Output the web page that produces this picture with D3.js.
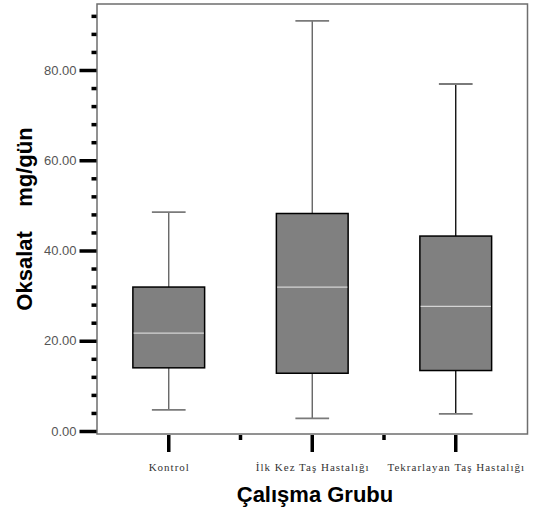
<!DOCTYPE html>
<html>
<head>
<meta charset="utf-8">
<script src="https://cdn.jsdelivr.net/npm/d3@7"></script>
<style>
  body { margin: 0; background: #fff; }
  svg { display: block; }
</style>
</head>
<body>
<svg id="chart" width="535" height="512"></svg>
<script>
// groups and box summary values (mg/gün)
var groups = ["Kontrol", "İlk Kez Taş Hastalığı", "Tekrarlayan Taş Hastalığı"];
var whiskerLow = [4.7, 2.8, 3.8];
var q1 = [14.0, 12.8, 13.4];
var median = [21.7, 31.9, 27.6];
var q3 = [31.9, 48.2, 43.2];
var whiskerHigh = [48.5, 90.9, 76.9];

var majorTicks = [0, 20, 40, 60, 80];
var minorTicks = [4, 8, 12, 16, 24, 28, 32, 36, 44, 48, 52, 56, 64, 68, 72, 76, 84, 88, 92];

var svg = d3.select("#chart");

var frame = { left: 97, right: 527.5, top: 4, bottom: 434 };

var y = d3.scaleLinear()
  .domain([0, 80])
  .range([431, 70]);

var x = d3.scaleBand()
  .domain(groups)
  .range([frame.left, frame.right])
  .padding(0);

var boxW = x.bandwidth() * 0.5;
var capW = boxW * 0.47;

var data = groups.map(function(g, i) {
  return { name: g, lo: whiskerLow[i], q1: q1[i], med: median[i], q3: q3[i], hi: whiskerHigh[i] };
});

// frame
svg.append("rect")
  .attr("x", frame.left)
  .attr("y", frame.top)
  .attr("width", frame.right - frame.left)
  .attr("height", frame.bottom - frame.top)
  .attr("fill", "none")
  .attr("stroke", "#6e6e6e")
  .attr("stroke-width", 1.5);

// y axis, major ticks with labels
var yAxis = svg.append("g")
  .attr("transform", "translate(" + (frame.left - 0.5) + ",0)")
  .call(d3.axisLeft(y).tickValues(majorTicks).tickFormat(d3.format(".2f")).tickSize(17).tickPadding(3));
yAxis.select(".domain").remove();
yAxis.selectAll("line").attr("stroke", "#000").attr("stroke-width", 3.5);
yAxis.selectAll("text")
  .attr("fill", "#555")
  .style("font-family", "'Liberation Sans', Arial, sans-serif")
  .style("font-size", "13px");

// y axis, minor ticks
var yMinor = svg.append("g")
  .attr("transform", "translate(" + (frame.left - 0.5) + ",0)")
  .call(d3.axisLeft(y).tickValues(minorTicks).tickFormat("").tickSize(5));
yMinor.select(".domain").remove();
yMinor.selectAll("line").attr("stroke", "#000").attr("stroke-width", 3.5);

// x axis ticks at group centres
var xAxis = svg.append("g")
  .attr("transform", "translate(0," + (frame.bottom + 1) + ")")
  .call(d3.axisBottom(x).tickSize(17).tickFormat(""));
xAxis.select(".domain").remove();
xAxis.selectAll("line").attr("stroke", "#000").attr("stroke-width", 3.5);

// short ticks between groups
svg.append("g")
  .selectAll("line")
  .data(groups.slice(1))
  .enter().append("line")
  .attr("x1", function(d) { return x(d); })
  .attr("x2", function(d) { return x(d); })
  .attr("y1", frame.bottom + 1)
  .attr("y2", frame.bottom + 6)
  .attr("stroke", "#000")
  .attr("stroke-width", 3.5);

// group labels
svg.append("g")
  .selectAll("text")
  .data(groups)
  .enter().append("text")
  .attr("x", function(d) { return x(d) + x.bandwidth() / 2 + 0.5; })
  .attr("y", 471)
  .attr("text-anchor", "middle")
  .attr("fill", "#333")
  .style("font-family", "'Liberation Serif', 'Times New Roman', serif")
  .style("font-size", "11px")
  .style("letter-spacing", "1px")
  .text(function(d) { return d; });

// boxes
var box = svg.append("g")
  .selectAll("g")
  .data(data)
  .enter().append("g")
  .attr("transform", function(d) { return "translate(" + (x(d.name) + x.bandwidth() / 2) + ",0)"; });

box.append("line")
  .attr("x1", 0).attr("x2", 0)
  .attr("y1", function(d) { return y(d.hi); })
  .attr("y2", function(d) { return y(d.q3); })
  .attr("stroke", function(d, i) { return i == 2 ? "#000" : "#5a5a5a"; })
  .attr("stroke-width", 1.3);

box.append("line")
  .attr("x1", 0).attr("x2", 0)
  .attr("y1", function(d) { return y(d.q1); })
  .attr("y2", function(d) { return y(d.lo); })
  .attr("stroke", function(d, i) { return i == 2 ? "#000" : "#5a5a5a"; })
  .attr("stroke-width", 1.3);

box.append("line")
  .attr("x1", -capW / 2).attr("x2", capW / 2)
  .attr("y1", function(d) { return y(d.hi); })
  .attr("y2", function(d) { return y(d.hi); })
  .attr("stroke", "#7a7a7a")
  .attr("stroke-width", 1.8);

box.append("line")
  .attr("x1", -capW / 2).attr("x2", capW / 2)
  .attr("y1", function(d) { return y(d.lo); })
  .attr("y2", function(d) { return y(d.lo); })
  .attr("stroke", "#7a7a7a")
  .attr("stroke-width", 1.8);

box.append("rect")
  .attr("x", -boxW / 2)
  .attr("width", boxW)
  .attr("y", function(d) { return y(d.q3); })
  .attr("height", function(d) { return y(d.q1) - y(d.q3); })
  .attr("fill", "#808080")
  .attr("stroke", "#000")
  .attr("stroke-width", 1.5);

box.append("line")
  .attr("x1", -boxW / 2 + 0.75).attr("x2", boxW / 2 - 0.75)
  .attr("y1", function(d) { return y(d.med); })
  .attr("y2", function(d) { return y(d.med); })
  .attr("stroke", "#d4d4d4")
  .attr("stroke-width", 1.3);

// axis titles
svg.append("text")
  .attr("transform", "translate(32,219) rotate(-90)")
  .attr("text-anchor", "middle")
  .attr("fill", "#000")
  .style("font-family", "'Liberation Sans', Arial, sans-serif")
  .style("font-size", "22px")
  .style("font-weight", "bold")
  .style("white-space", "pre")
  .text("Oksalat    mg/gün");

svg.append("text")
  .attr("x", 315)
  .attr("y", 502)
  .attr("text-anchor", "middle")
  .attr("fill", "#000")
  .style("font-family", "'Liberation Sans', Arial, sans-serif")
  .style("font-size", "22px")
  .style("font-weight", "bold")
  .text("Çalışma Grubu");
</script>
</body>
</html>
